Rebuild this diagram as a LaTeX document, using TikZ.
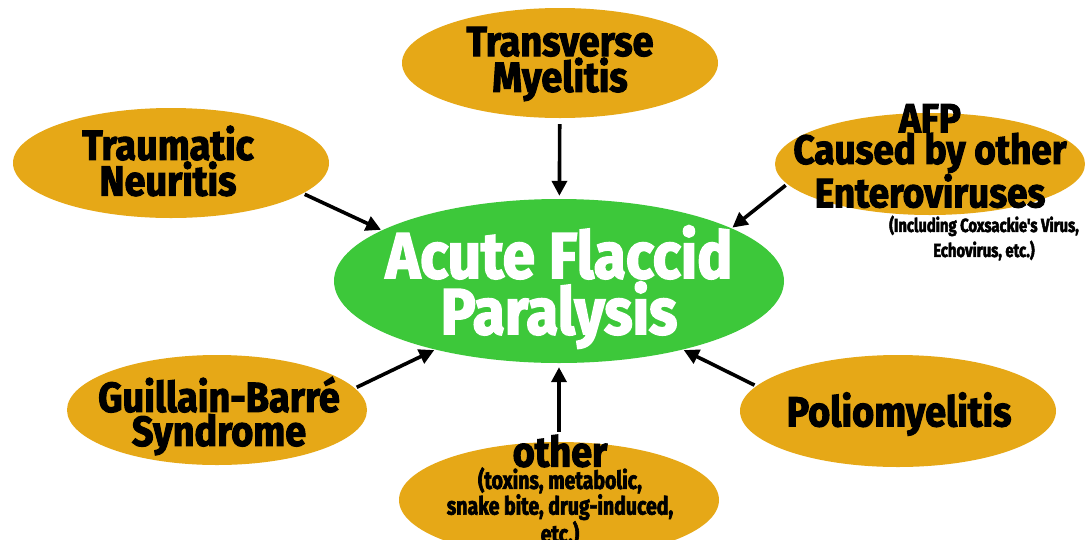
\documentclass[tikz,border=0pt]{standalone}
\usepackage{fontspec}
\setmainfont{Fira Sans}[FakeStretch=0.9, BoldFeatures={FakeBold=2.5}]
\newfontfamily\narrowf{Fira Sans}[FakeStretch=0.78, BoldFeatures={FakeBold=2.5}]
\usetikzlibrary{shapes.geometric,arrows.meta}
\definecolor{leafc}{HTML}{E6A817}
\definecolor{hubc}{HTML}{3DC83A}
\tikzset{
 leaf/.style={ellipse, fill=leafc, draw=none, inner sep=0pt},
 hub/.style={ellipse, fill=hubc, draw=none, inner sep=0pt},
 ltxt/.style={font=\fontsize{42}{34}\selectfont\bfseries, align=center, text=black, inner sep=0pt},
 htxt/.style={font=\fontsize{65}{56}\selectfont\bfseries, align=center, text=white, inner sep=0pt},
 stxt/.style={font=\narrowf\fontsize{19}{25}\selectfont\bfseries, align=center, text=black, inner sep=0pt},
 otxt/.style={font=\narrowf\fontsize{25}{21.5}\selectfont\bfseries, align=center, text=black, inner sep=0pt},
 arr/.style={line width=3.6pt, -{Triangle[length=15pt,width=15pt]}},
}
\begin{document}
\begin{tikzpicture}[x=1pt,y=-1pt]
\useasboundingbox (0,0) rectangle (1085,539);
\fill[white] (0,0) rectangle (1085,539);
% ellipses
\node[hub, minimum width=450pt, minimum height=164pt] (acute) at (559,281) {};
\node[leaf, minimum width=316pt, minimum height=110pt] (trans) at (560,63) {};
\node[leaf, minimum width=316pt, minimum height=110pt] (trauma) at (171,163) {};
\node[leaf, minimum width=310pt, minimum height=102pt] (afp) at (930,164) {};
\node[leaf, minimum width=300pt, minimum height=110pt] (gbs) at (217,410) {};
\node[leaf, minimum width=316pt, minimum height=112pt] (polio) at (898,411) {};
\node[leaf, minimum width=320pt, minimum height=116pt] (other) at (559,500) {};
% texts
\node[htxt] (acuteT) at (559,287) {Acute Flaccid\\Paralysis};
\node[ltxt] (transT) at (560,64) {Transverse\\Myelitis};
\node[ltxt] (traumaT) at (168,161) {Traumatic\\Neuritis};
\node[ltxt, font=\fontsize{41}{31.5}\selectfont\bfseries] (afpT) at (930,156) {AFP\\Caused by other\\Enteroviruses};
\node[stxt] (afpS) at (984,238) {(Including Coxsackie's Virus,\\Echovirus, etc.)};
\node[ltxt] (gbsT) at (219,416) {Guillain-Barré\\Syndrome};
\node[ltxt] (polioT) at (899,414) {Poliomyelitis};
\node[ltxt] (otherT) at (560,451) {other};
\node[otxt] (otherS) at (560,507) {(toxins, metabolic,\\snake bite, drug-induced,\\etc.)};
% connectors
\draw[arr, shorten <=6pt, shorten >=3pt] (trans) -- (acute);
\draw[arr, shorten <=2pt, shorten >=1pt] (trauma.-13) -- (acute.164);
\draw[arr, shorten <=2pt, shorten >=1pt] (afp.188) -- (acute.17);
\draw[arr, shorten <=2pt, shorten >=1pt] (gbs.9) -- (acute.209);
\draw[arr, shorten <=2pt, shorten >=1pt] (polio.170) -- (acute.-29);
\draw[arr, shorten <=10pt, shorten >=4pt] (other) -- (acute);
\end{tikzpicture}
\end{document}
